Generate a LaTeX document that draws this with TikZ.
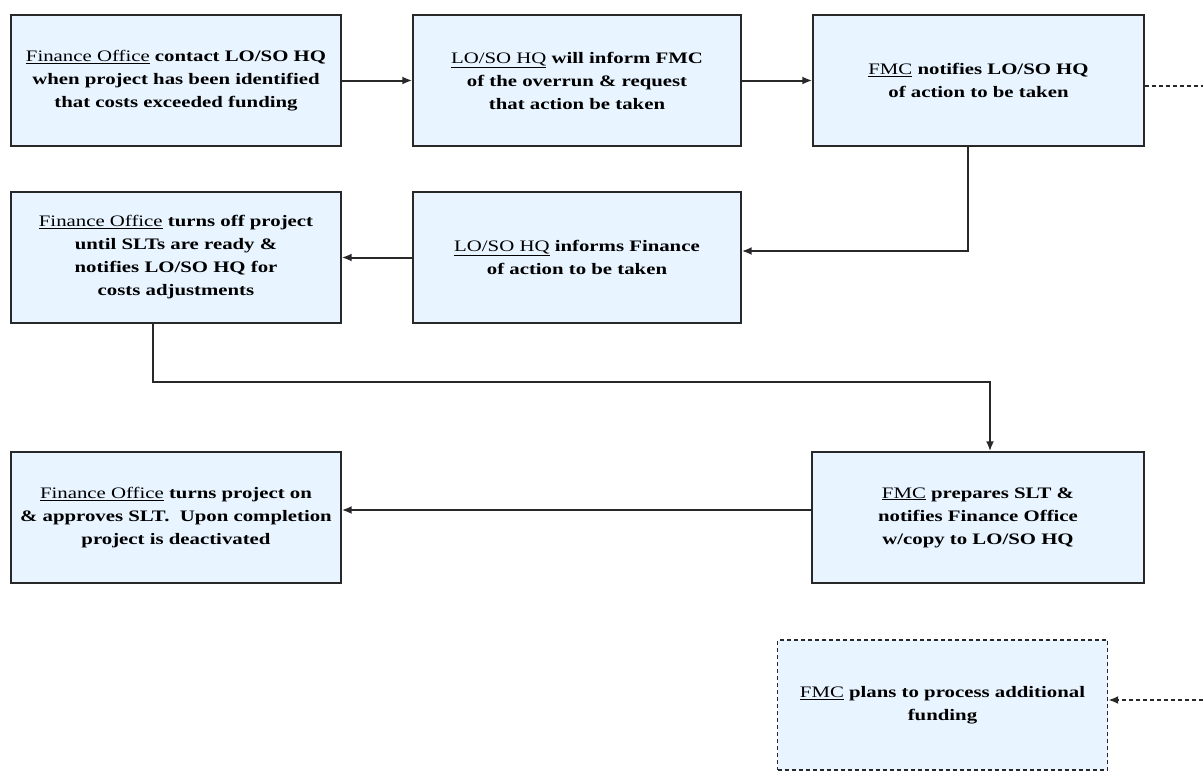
\documentclass[tikz,border=0pt]{standalone}
\usepackage{fontspec}
\setmainfont{Liberation Serif}[FakeStretch=1.3]
\usetikzlibrary{arrows.meta}
\definecolor{boxfill}{RGB}{232,244,255}
\definecolor{edge}{RGB}{40,40,40}
\newcommand{\ul}[1]{\textmd{\underline{#1}}}
\begin{document}
\begin{tikzpicture}[x=1pt,y=-1pt,
  stepbox/.style={draw=edge,line width=1.4pt,fill=boxfill,minimum width=330pt,
    minimum height=131pt,inner sep=0pt,align=center,
    font=\fontsize{16}{23}\selectfont\bfseries},
  flow/.style={draw=edge,line width=2pt,-{Latex[length=10pt,width=8pt]}},
  dashflow/.style={flow,dash pattern=on 4pt off 3pt}]
\useasboundingbox (0,0) rectangle (1203,771);
\fill[white] (0,0) rectangle (1203,771);

\node[stepbox] (b1) at (176,80.5) {\ul{Finance Office} contact LO/SO HQ\\when project has been identified\\that costs exceeded funding};
\node[stepbox,minimum width=328pt] (b2) at (577,80.5) {\ul{LO/SO HQ} will inform FMC\\of the overrun \& request\\that action be taken};
\node[stepbox,minimum width=331pt] (b3) at (978.5,80.5) {\ul{FMC} notifies LO/SO HQ\\of action to be taken};
\node[stepbox] (b4) at (176,257.5) {\ul{Finance Office} turns off project\\until SLTs are ready \&\\notifies LO/SO HQ for\\costs adjustments};
\node[stepbox,minimum width=328pt] (b5) at (577,257.5) {\ul{LO/SO HQ} informs Finance\\of action to be taken};
\node[stepbox] (b7) at (176,517.5) {\ul{Finance Office} turns project on\\\& approves SLT.\ \ Upon completion\\project is deactivated};
\node[stepbox,minimum width=332pt] (b6) at (978,517.5) {\ul{FMC} prepares SLT \&\\notifies Finance Office\\w/copy to LO/SO HQ};
\node[stepbox,dash pattern=on 4pt off 3pt,minimum height=130pt] (b8) at (942.5,705) {\ul{FMC} plans to process additional\\funding};

% bends and open ends of the connectors
\coordinate (k1) at (968,251);
\coordinate (k2) at (153,382);
\coordinate (k3) at (990,382);
\coordinate (o1) at (1203,86);
\coordinate (o2) at (1203,700);

\draw[flow] (b1.east) -- (b2.west);
\draw[flow] (b2.east) -- (b3.west);
\draw[flow] (b3.south -| k1) -- (k1) -- (b5.east |- k1);
\draw[flow] (b5.west) -- (b4.east);
\draw[flow] (b4.south -| k2) -- (k2) -- (k3) -- (b6.north -| k3);
\draw[flow] (b6.west |- 0,510) -- (b7.east |- 0,510);
\draw[dashflow,-] (b3.east |- o1) -- (o1);
\draw[dashflow] (o2) -- (b8.east |- o2);
\end{tikzpicture}
\end{document}
